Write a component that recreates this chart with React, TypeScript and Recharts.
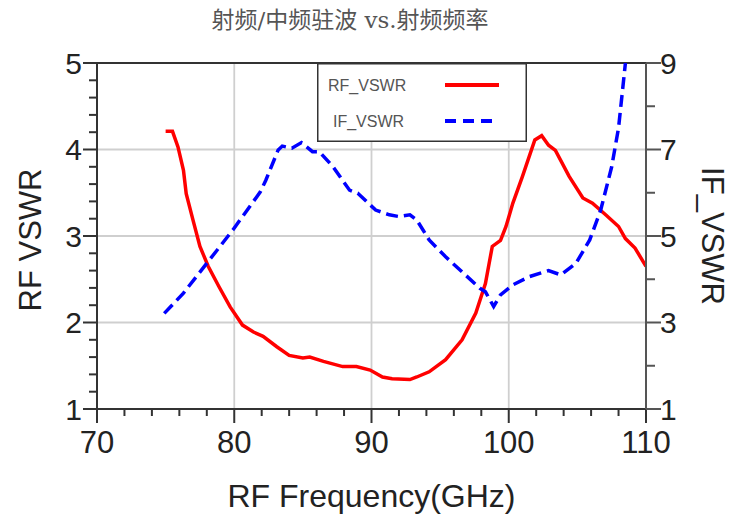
import React from 'react';
import { LineChart, Line, XAxis, YAxis, CartesianGrid, Legend, ReferenceLine } from 'recharts';

const rfFreq = [75.0, 75.5, 75.9, 76.3, 76.5, 77.0, 77.5, 78.1, 78.9, 79.7, 80.6, 81.4, 82.1, 83.1, 84.0, 85.0, 85.5, 86.5, 87.9, 88.9, 89.9, 90.8, 91.5, 92.8, 93.3, 94.2, 95.4, 96.6, 97.6, 98.3, 98.8, 99.4, 99.8, 100.3, 101.0, 101.9, 102.4, 102.9, 103.4, 104.4, 105.4, 106.1, 107.1, 108.0, 108.5, 109.2, 110.0];
const rfVswr = [4.21, 4.21, 4.03, 3.76, 3.49, 3.18, 2.88, 2.65, 2.41, 2.18, 1.97, 1.89, 1.84, 1.72, 1.62, 1.59, 1.60, 1.55, 1.49, 1.49, 1.45, 1.37, 1.35, 1.34, 1.37, 1.43, 1.57, 1.80, 2.11, 2.45, 2.88, 2.95, 3.11, 3.38, 3.69, 4.11, 4.16, 4.05, 3.99, 3.69, 3.44, 3.38, 3.24, 3.11, 2.97, 2.86, 2.65];

const ifFreq = [74.9, 76.3, 78.1, 79.9, 81.9, 82.3, 83.2, 83.5, 84.2, 84.9, 85.7, 86.2, 87.2, 88.4, 89.0, 90.3, 91.3, 92.0, 92.8, 93.3, 94.2, 95.4, 96.6, 97.9, 98.3, 98.9, 99.4, 100.3, 101.5, 102.9, 103.8, 104.9, 105.9, 106.7, 107.5, 108.0, 108.5];
const ifVswr = [3.21, 3.68, 4.41, 5.14, 6.02, 6.29, 6.99, 7.08, 7.03, 7.16, 6.95, 6.95, 6.60, 6.06, 5.99, 5.60, 5.49, 5.45, 5.49, 5.37, 4.91, 4.52, 4.17, 3.79, 3.71, 3.37, 3.64, 3.87, 4.06, 4.20, 4.10, 4.37, 4.91, 5.60, 6.60, 7.50, 9.0];

const xTicks = [70, 72, 74, 76, 78, 80, 82, 84, 86, 88, 90, 92, 94, 96, 98, 100, 102, 104, 106, 108, 110];
const xMajor = [70, 80, 90, 100, 110];
const leftTicks = [1, 1.2, 1.4, 1.6, 1.8, 2, 2.2, 2.4, 2.6, 2.8, 3, 3.2, 3.4, 3.6, 3.8, 4, 4.2, 4.4, 4.6, 4.8, 5];
const leftMajor = [1, 2, 3, 4, 5];
const rightTicks = [1, 2, 3, 4, 5, 6, 7, 8, 9];
const rightMajor = [1, 3, 5, 7, 9];
const gridX = [80, 90, 100];
const gridY = [2, 3, 4];

const title = '射频/中频驻波 vs.射频频率';
const xTitle = 'RF Frequency(GHz)';
const leftTitle = 'RF VSWR';
const rightTitle = 'IF_VSWR';
const rfName = 'RF_VSWR';
const ifName = 'IF_VSWR';

const rfData = rfFreq.map((f, i) => ({ f, rf: rfVswr[i] }));
const ifData = ifFreq.map((f, i) => ({ f, iv: ifVswr[i] }));

const FONT = '"Liberation Sans", Arial, sans-serif';
const AXIS = '#333';
const isMajor = (list: number[], v: number) => list.some((m) => Math.abs(m - v) < 1e-6);

const BottomTick = (props: any) => {
  const { x, y, payload } = props;
  const major = isMajor(xMajor, payload.value);
  return (
    <g>
      <line x1={x} x2={x} y1={y} y2={y + (major ? 14 : 7)} stroke={AXIS} strokeWidth={2} />
      {major && (
        <text x={x} y={y + 44} textAnchor="middle" fontFamily={FONT} fontSize={31} fill="#222">
          {payload.value}
        </text>
      )}
    </g>
  );
};

const LeftTick = (props: any) => {
  const { x, y, payload } = props;
  const major = isMajor(leftMajor, payload.value);
  return (
    <g>
      <line x1={x - (major ? 14 : 8)} x2={x} y1={y} y2={y} stroke={AXIS} strokeWidth={2} />
      {major && (
        <text x={x - 15} y={y} textAnchor="end" dominantBaseline="central" fontFamily={FONT} fontSize={30} fill="#222">
          {Math.round(payload.value)}
        </text>
      )}
    </g>
  );
};

const RightTick = (props: any) => {
  const { x, y, payload } = props;
  const major = isMajor(rightMajor, payload.value);
  return (
    <g>
      <line x1={x} x2={x + (major ? 15 : 9)} y1={y} y2={y} stroke="#555" strokeWidth={2} />
      {major && (
        <text x={x + 14} y={y} textAnchor="start" dominantBaseline="central" fontFamily={FONT} fontSize={30} fill="#222">
          {payload.value}
        </text>
      )}
    </g>
  );
};

const LeftTitle = (props: any) => {
  const vb = props.viewBox;
  const cx = vb.x - 7;
  const cy = vb.y + vb.height / 2 + 4;
  return (
    <text x={cx} y={cy} transform={`rotate(-90 ${cx} ${cy})`} textAnchor="middle" dominantBaseline="central" fontFamily={FONT} fontSize={31} fill="#222">
      {leftTitle}
    </text>
  );
};

const RightTitle = (props: any) => {
  const vb = props.viewBox;
  const cx = vb.x + 66;
  const cy = vb.y + vb.height / 2;
  return (
    <text x={cx} y={cy} transform={`rotate(90 ${cx} ${cy})`} textAnchor="middle" dominantBaseline="central" fontFamily={FONT} fontSize={31} fill="#222">
      {rightTitle}
    </text>
  );
};

const BottomTitle = (props: any) => {
  const vb = props.viewBox;
  return (
    <text x={vb.x + vb.width / 2} y={vb.y + 98} textAnchor="middle" fontFamily={FONT} fontSize={32} fill="#222">
      {xTitle}
    </text>
  );
};

const LegendBox = () => (
  <svg width={210} height={79} style={{ display: 'block' }}>
    <rect x={0.75} y={0.75} width={208.5} height={77.5} fill="#fff" stroke={AXIS} strokeWidth={1.5} />
    <text x={11} y={22} dominantBaseline="central" fontFamily={FONT} fontSize={16} fill="#555">{rfName}</text>
    <line x1={128} x2={182} y1={22} y2={22} stroke="#ff0000" strokeWidth={4} />
    <text x={16} y={58} dominantBaseline="central" fontFamily={FONT} fontSize={16} fill="#555">{ifName}</text>
    <line x1={128} x2={182} y1={58} y2={58} stroke="#0000ff" strokeWidth={4} strokeDasharray="11 7" />
  </svg>
);

export default function App() {
  return (
    <div style={{ position: 'absolute', left: 0, top: 0, width: 741, height: 514, background: '#fff' }}>
      <div
        style={{
          position: 'absolute',
          left: 0,
          width: 700,
          top: 5,
          textAlign: 'center',
          fontFamily: '"DejaVu Serif", "Noto Sans CJK SC", serif',
          fontSize: 23,
          color: '#555',
          lineHeight: '30px',
        }}
      >
        {title}
      </div>
      <LineChart width={741} height={514} margin={{ top: 63, right: 35, bottom: 45, left: 37 }}>
        <CartesianGrid
          xAxisId="x"
          yAxisId="left"
          stroke="#cfcfcf"
          strokeWidth={1.8}
          horizontalValues={gridY}
          verticalValues={gridX}
        />
        <XAxis
          xAxisId="x"
          type="number"
          dataKey="f"
          domain={[70, 110]}
          ticks={xTicks}
          interval={0}
          allowDataOverflow
          height={60}
          tickSize={0}
          tickMargin={0}
          tickLine={false}
          axisLine={{ stroke: AXIS, strokeWidth: 2 }}
          tick={<BottomTick />}
          label={<BottomTitle />}
        />
        <YAxis
          yAxisId="left"
          orientation="left"
          type="number"
          domain={[1, 5]}
          ticks={leftTicks}
          interval={0}
          allowDataOverflow
          width={60}
          tickSize={0}
          tickMargin={0}
          tickLine={false}
          axisLine={{ stroke: AXIS, strokeWidth: 2 }}
          tick={<LeftTick />}
          label={<LeftTitle />}
        />
        <YAxis
          yAxisId="right"
          orientation="right"
          type="number"
          domain={[1, 9]}
          ticks={rightTicks}
          interval={0}
          allowDataOverflow
          width={60}
          tickSize={0}
          tickMargin={0}
          tickLine={false}
          axisLine={{ stroke: '#555', strokeWidth: 2 }}
          tick={<RightTick />}
          label={<RightTitle />}
        />
        <ReferenceLine xAxisId="x" yAxisId="left" y={5} stroke={AXIS} strokeWidth={2} />
        <Line
          xAxisId="x"
          yAxisId="left"
          data={rfData}
          dataKey="rf"
          name={rfName}
          type="linear"
          stroke="#ff0000"
          strokeWidth={3.5}
          dot={false}
          isAnimationActive={false}
        />
        <Line
          xAxisId="x"
          yAxisId="right"
          data={ifData}
          dataKey="iv"
          name={ifName}
          type="linear"
          stroke="#0000ff"
          strokeWidth={3.5}
          strokeDasharray="12 6"
          dot={false}
          isAnimationActive={false}
        />
        <Legend
          layout="horizontal"
          verticalAlign="middle"
          align="center"
          content={<LegendBox />}
          wrapperStyle={{ position: 'absolute', left: 317, top: 63, width: 210, height: 79, margin: 0 }}
        />
      </LineChart>
    </div>
  );
}
